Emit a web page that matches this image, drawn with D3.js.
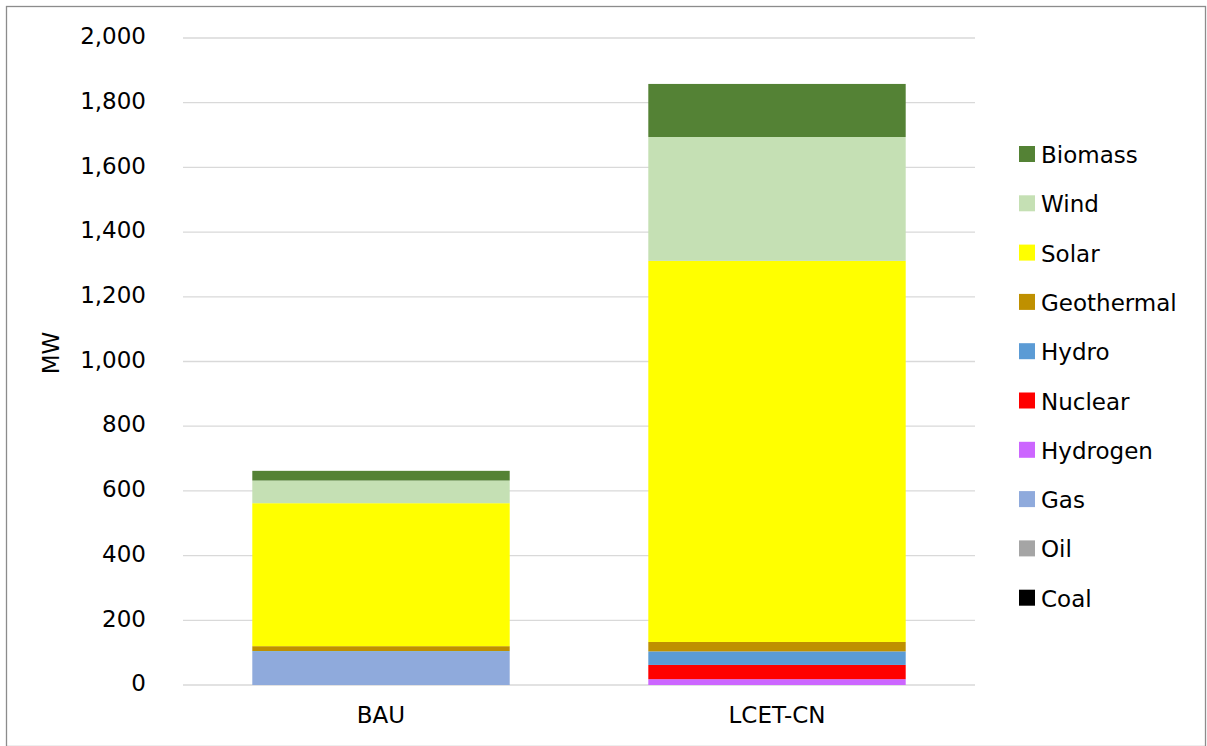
<!DOCTYPE html>
<html>
<head>
<meta charset="utf-8">
<script src="https://cdn.jsdelivr.net/npm/d3@7"></script>
<style>
  body { margin: 0; background: #fff; }
  svg text { font-family: "DejaVu Sans", sans-serif; fill: #000; }
</style>
</head>
<body>
<div class="chart-box"></div>
<script>
// scenarios on the x axis
var scenarios = ["BAU", "LCET-CN"];

// stack order, bottom to top
var techs = ["Coal", "Oil", "Gas", "Hydrogen", "Nuclear", "Hydro", "Geothermal", "Solar", "Wind", "Biomass"];
var techColors = ["#000000", "#a5a5a5", "#8faadc", "#cc66ff", "#ff0000", "#5b9bd5", "#bf9000", "#ffff00", "#c5e0b4", "#548235"];

// MW per technology, in the order of techs
var bauValues = [0, 0, 103, 0, 0, 2, 15, 442, 70, 30];
var lcetValues = [0, 0, 0, 18, 44, 42, 29, 1178, 383, 164];

var yTicks = [0, 200, 400, 600, 800, 1000, 1200, 1400, 1600, 1800, 2000];

var W = 1207, H = 746,
    margin = {top: 38, right: 232, bottom: 61, left: 183},
    width = W - margin.left - margin.right,
    height = H - margin.top - margin.bottom,
    fontSize = "23px";

var rows = scenarios.map(function(s, i) {
    var vals = i === 0 ? bauValues : lcetValues;
    var r = {scenario: s};
    techs.forEach(function(t, j) { r[t] = vals[j]; });
    return r;
});

var stack = d3.stack().keys(techs)(rows);

var svg = d3.select(".chart-box").append("svg")
    .attr("width", W)
    .attr("height", H);

// outer frame
svg.append("rect")
    .attr("x", 6.5).attr("y", 6.5)
    .attr("width", W - 8).attr("height", H - 6)
    .attr("fill", "none")
    .attr("stroke", "#8c8c8c")
    .attr("stroke-width", 1.3);

var g = svg.append("g")
    .attr("transform", "translate(" + margin.left + "," + margin.top + ")");

var x = d3.scaleBand().domain(scenarios).range([0, width]).paddingInner(0.35).paddingOuter(0.175);
var y = d3.scaleLinear().domain([0, 2000]).range([height, 0]);
var color = d3.scaleOrdinal().domain(techs).range(techColors);

// gridlines
g.selectAll(".grid")
    .data(yTicks)
  .enter().append("line")
    .attr("x1", 0).attr("x2", width)
    .attr("y1", function(d) { return y(d); })
    .attr("y2", function(d) { return y(d); })
    .attr("stroke", "#d9d9d9")
    .attr("stroke-width", 1.3);

// y labels
var yAxis = d3.axisLeft(y).tickValues(yTicks).tickSize(0).tickPadding(37)
    .tickFormat(d3.format(","));
g.append("g").call(yAxis)
    .call(function(a) { a.select(".domain").remove(); })
    .selectAll("text")
    .attr("dy", "0.25em")
    .style("font-size", fontSize);

// stacked bars
g.selectAll(".layer")
    .data(stack)
  .enter().append("g")
    .attr("fill", function(d) { return color(d.key); })
  .selectAll("rect")
    .data(function(d) { return d; })
  .enter().append("rect")
    .attr("x", function(d) { return x(d.data.scenario); })
    .attr("width", x.bandwidth())
    .attr("y", function(d) { return y(d[1]); })
    .attr("height", function(d) { return y(d[0]) - y(d[1]); });

// x labels
var xAxis = d3.axisBottom(x).tickSize(0).tickPadding(22);
g.append("g")
    .attr("transform", "translate(0," + height + ")")
    .call(xAxis)
    .call(function(a) { a.select(".domain").remove(); })
    .selectAll("text")
    .style("font-size", fontSize);

// y title
svg.append("text")
    .attr("transform", "translate(59,353) rotate(-90)")
    .attr("text-anchor", "middle")
    .style("font-size", fontSize)
    .text("MW");

// legend, Biomass on top
var legendItems = techs.slice().reverse();
var legend = svg.append("g").attr("transform", "translate(1019,146)");
var item = legend.selectAll(".item")
    .data(legendItems)
  .enter().append("g")
    .attr("transform", function(d, i) { return "translate(0," + (i * 49.3) + ")"; });
item.append("rect")
    .attr("width", 16).attr("height", 16)
    .attr("fill", function(d) { return color(d); });
item.append("text")
    .attr("x", 22).attr("y", 17)
    .style("font-size", fontSize)
    .text(function(d) { return d; });
</script>
</body>
</html>
